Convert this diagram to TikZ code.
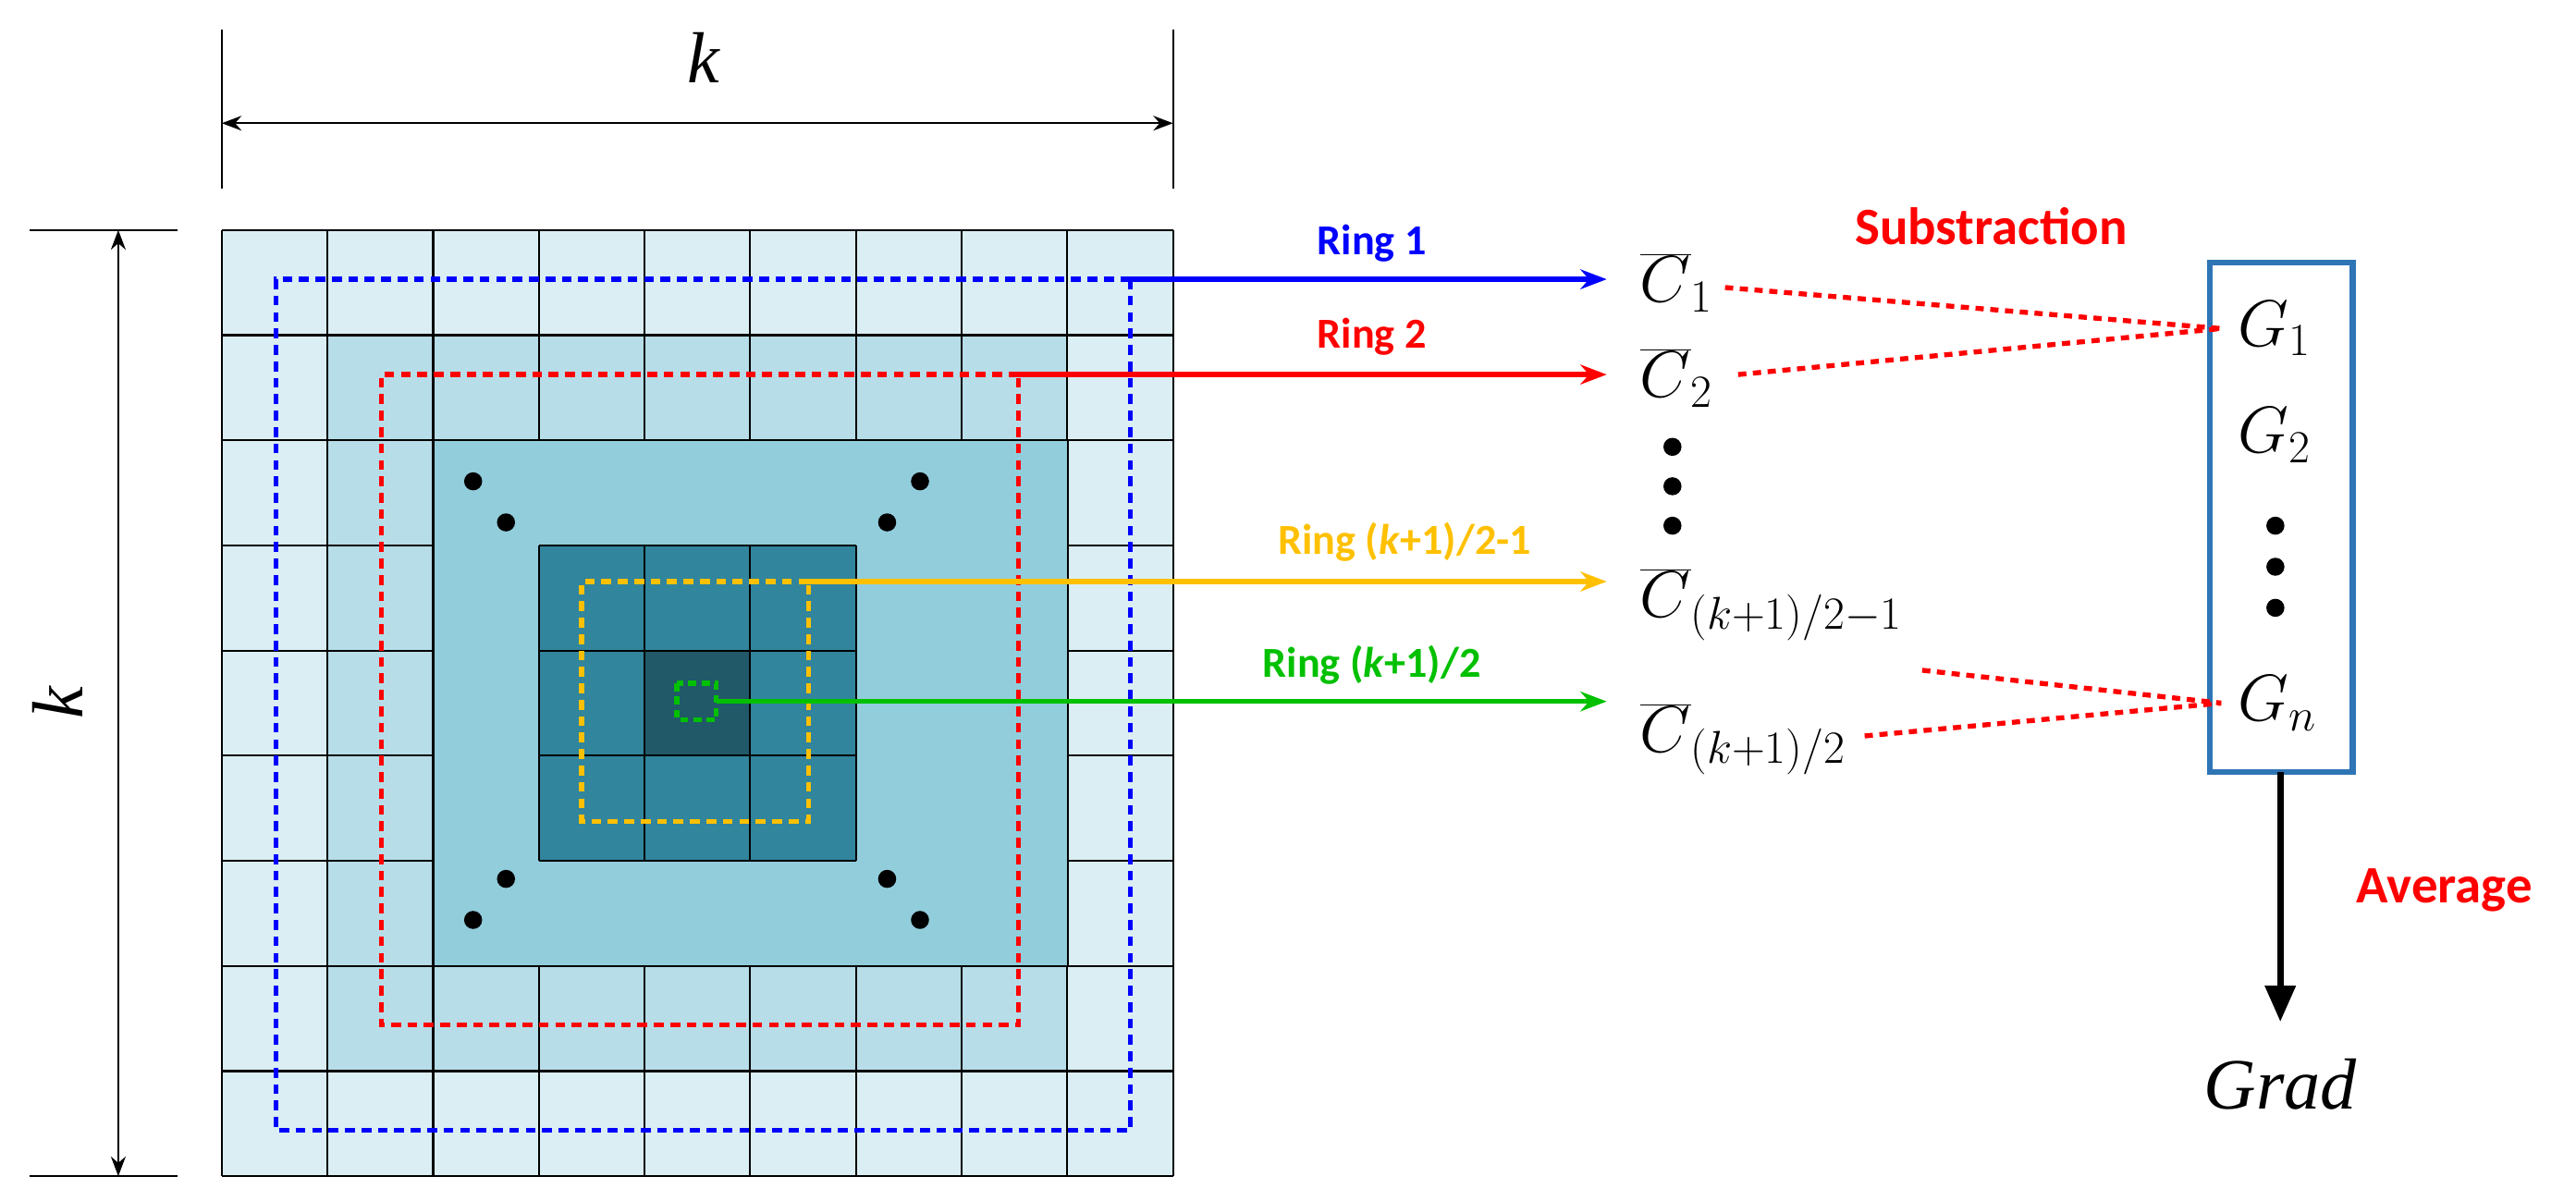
\RequirePackage{fix-cm}
\documentclass[tikz,border=0pt]{standalone}
\usepackage{fontspec}
\setmainfont{Liberation Serif}
\newfontfamily\lab{Carlito}
\usetikzlibrary{arrows.meta}
\definecolor{c1}{HTML}{DAEEF3}
\definecolor{c2}{HTML}{B7DDE8}
\definecolor{c3}{HTML}{92CDDC}
\definecolor{c4}{HTML}{31859C}
\definecolor{c5}{HTML}{215968}
\definecolor{myblue}{HTML}{0000FF}
\definecolor{myorange}{HTML}{FFC000}
\definecolor{mygreen}{HTML}{00C000}
\definecolor{boxblue}{HTML}{2E75B6}
\begin{document}
\begin{tikzpicture}[x=1pt,y=-1pt,
 ring/.style={line width=3pt,dash pattern=on 6pt off 4pt},
 arr/.style={line width=3pt,-{Stealth[length=16pt,width=12pt]}},
 rl/.style={font=\lab\bfseries\fontsize{26}{28}\selectfont},
 cl/.style={font=\fontsize{40}{44}\selectfont,anchor=west,inner sep=0},
 sub/.style={red,line width=3pt,dash pattern=on 5pt off 4pt},
 dot/.style={circle,fill=black,inner sep=0,minimum size=11pt}]
\useasboundingbox (0,0) rectangle (1568,731);
% grid
\fill[c1] (135,140) rectangle (714,716);
\fill[c2] (200,204) rectangle (650,652);
\foreach \i in {0,...,9}{
 \pgfmathsetmacro\x{135+\i*64.33}
 \pgfmathsetmacro\y{140+\i*64}
 \draw[line width=1.2pt] (\x,140) -- (\x,716);
 \draw[line width=1.2pt] (135,\y) -- (714,\y);}
\fill[c3,draw=black,line width=1.2pt] (264,268) rectangle (650,588);
\fill[c4] (328,332) rectangle (521,524);
\fill[c5] (393,396) rectangle (457,460);
\foreach \i in {0,...,3}{
 \pgfmathsetmacro\x{328+\i*64.33}
 \pgfmathsetmacro\y{332+\i*64}
 \draw[line width=1.2pt] (\x,332) -- (\x,524);
 \draw[line width=1.2pt] (328,\y) -- (521,\y);}
\foreach \p in {(288,293),(308,318),(560,293),(540,318),(308,535),(288,560),(540,535),(560,560)}
 \node[dot] at \p {};
% rings
\draw[ring,myblue] (688,170) -- (168,170) -- (168,688) -- (688,688) -- cycle;
\draw[ring,red] (620,228) -- (232,228) -- (232,624) -- (620,624) -- cycle;
\draw[ring,myorange] (492,354) -- (354,354) -- (354,500) -- (492,500) -- cycle;
\draw[ring,mygreen,dash pattern=on 5pt off 3pt] (412,416) rectangle (436,438);
\coordinate (s1) at (688,170); \coordinate (s2) at (620,228);
\coordinate (s3) at (492,354); \coordinate (s4) at (436,427);
\coordinate (e1) at (978,170); \coordinate (e2) at (978,228);
\coordinate (e3) at (978,354); \coordinate (e4) at (978,427);
\draw[arr,myblue] (s1) -- (e1);
\draw[arr,red] (s2) -- (e2);
\draw[arr,myorange] (s3) -- (e3);
\draw[arr,mygreen] (s4) -- (e4);
\node[rl,myblue] (r1) at (835,148) {Ring 1};
\node[rl,red] (r2) at (835,205) {Ring 2};
\node[rl,myorange] (r3) at (855,330) {Ring (\textit{k}+1)/2-1};
\node[rl,mygreen] (r4) at (835,405) {Ring (\textit{k}+1)/2};
% C labels
\node[cl] (C1) at (998,172) {$\overline{C}_1$};
\node[cl] (C2) at (998,230) {$\overline{C}_2$};
\node[cl] (C3) at (998,368) {$\overline{C}_{(k+1)/2-1}$};
\node[cl] (C4) at (998,450) {$\overline{C}_{(k+1)/2}$};
\foreach \y in {272,296,320} \node[dot] at (1018,\y) {};
% G box
\draw[boxblue,line width=3.5pt] (1345,160) rectangle (1432,470);
\node[cl] (G1) at (1362,200) {$G_1$};
\node[cl] (G2) at (1362,265) {$G_2$};
\node[cl] (Gn) at (1362,428) {$G_n$};
\foreach \y in {320,345,370} \node[dot] at (1385,\y) {};
\coordinate (a1) at (1050,175); \coordinate (a2) at (1058,228);
\coordinate (a3) at (1170,408); \coordinate (a4) at (1135,448);
\coordinate (g1) at (1352,200); \coordinate (gn) at (1352,428);
\draw[sub] (a1) -- (g1); \draw[sub] (a2) -- (g1);
\draw[sub] (a3) -- (gn); \draw[sub] (a4) -- (gn);
\node[rl,red,font=\lab\bfseries\fontsize{32}{34}\selectfont] (subl) at (1212,138) {Substraction};
\coordinate (bt) at (1388,470); \coordinate (bb) at (1388,622);
\draw[line width=4pt,-{Triangle[length=22pt,width=18pt]}] (bt) -- (bb);
\node[rl,red,font=\lab\bfseries\fontsize{32}{34}\selectfont] (avg) at (1488,542) {Average};
\node[font=\itshape\fontsize{44}{48}\selectfont] (grad) at (1388,660) {Grad};
% dimensions
\draw[line width=1.2pt] (135,18) -- (135,115) (714,18) -- (714,115);
\coordinate (d1) at (135,75); \coordinate (d2) at (714,75);
\draw[line width=1.2pt,{Stealth[length=12pt]}-{Stealth[length=12pt]}] (d1) -- (d2);
\node[font=\itshape\fontsize{44}{48}\selectfont] (kt) at (428,35) {k};
\draw[line width=1.2pt] (18,140) -- (108,140) (18,716) -- (108,716);
\coordinate (v1) at (72,140); \coordinate (v2) at (72,716);
\draw[line width=1.2pt,{Stealth[length=12pt]}-{Stealth[length=12pt]}] (v1) -- (v2);
\node[font=\itshape\fontsize{44}{48}\selectfont,rotate=90] (kl) at (35,428) {k};
\end{tikzpicture}
\end{document}
